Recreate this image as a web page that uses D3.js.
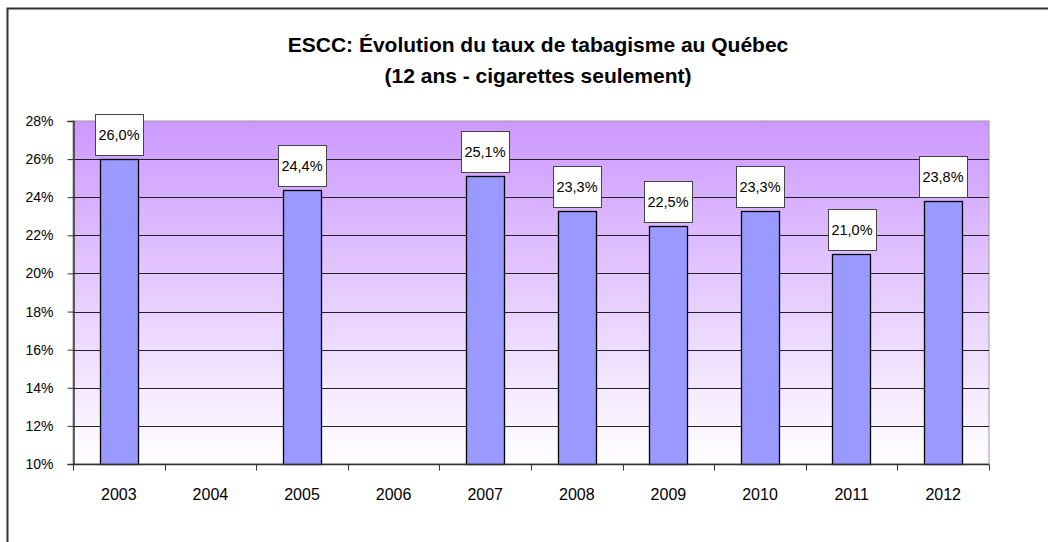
<!DOCTYPE html>
<html>
<head>
<meta charset="utf-8">
<script src="https://cdn.jsdelivr.net/npm/d3@7"></script>
<style>
  body { margin: 0; background: #fff; }
  text { font-family: "Liberation Sans", Arial, sans-serif; fill: #000; }
</style>
</head>
<body>
<div id="chart"></div>
<script>
// data
const years = ["2003", "2004", "2005", "2006", "2007", "2008", "2009", "2010", "2011", "2012"];
const rates = [26.0, null, 24.4, null, 25.1, 23.3, 22.5, 23.3, 21.0, 23.8];
const yTicks = [10, 12, 14, 16, 18, 20, 22, 24, 26, 28];
const titleLines = ["ESCC: Évolution du taux de tabagisme au Québec", "(12 ans - cigarettes seulement)"];

const width = 1048, height = 542;
const plot = {left: 73, right: 989, top: 121, bottom: 464};

const svg = d3.select("#chart")
  .append("svg")
  .attr("width", width)
  .attr("height", height);

const defs = svg.append("defs");
const grad = defs.append("linearGradient")
  .attr("id", "bg")
  .attr("x1", 0).attr("y1", 0).attr("x2", 0).attr("y2", 1);
grad.append("stop").attr("offset", "0%").attr("stop-color", "#cc99ff");
grad.append("stop").attr("offset", "100%").attr("stop-color", "#ffffff");

// outer chart border (right/bottom edges fall outside the picture)
svg.append("rect")
  .attr("x", 7.5).attr("y", 8.5)
  .attr("width", width + 10).attr("height", height + 10)
  .attr("fill", "none")
  .attr("stroke", "#333")
  .attr("stroke-width", 2);

const x = d3.scaleBand().domain(years).range([plot.left, plot.right]).paddingInner(0.58).paddingOuter(0.29);
const xBand = d3.scaleBand().domain(years).range([plot.left, plot.right]);
const y = d3.scaleLinear().domain([10, 28]).range([plot.bottom, plot.top]);

// plot background
svg.append("rect")
  .attr("x", plot.left).attr("y", plot.top)
  .attr("width", plot.right - plot.left).attr("height", plot.bottom - plot.top)
  .attr("fill", "url(#bg)")
  .attr("stroke", "#999")
  .attr("stroke-width", 1);

// gridlines
svg.append("g").attr("class", "grid")
  .selectAll("line").data(yTicks.filter(d => d > 10 && d < 28)).enter()
  .append("line")
  .attr("x1", plot.left).attr("x2", plot.right)
  .attr("y1", d => Math.round(y(d)) + 0.5).attr("y2", d => Math.round(y(d)) + 0.5)
  .attr("stroke", "#222")
  .attr("stroke-width", 1);

// bars
const data = years.map((yr, i) => ({year: yr, value: rates[i]})).filter(d => d.value != null);

svg.append("g").attr("class", "bars")
  .selectAll("rect").data(data).enter()
  .append("rect")
  .attr("x", d => Math.round(x(d.year)) + 0.5)
  .attr("y", d => Math.round(y(d.value)) + 0.5)
  .attr("width", Math.round(x.bandwidth()))
  .attr("height", d => Math.round(y(10)) - Math.round(y(d.value)))
  .attr("fill", "#9999ff")
  .attr("stroke", "#000")
  .attr("stroke-width", 1.3);

// y axis
const yAxis = d3.axisLeft(y)
  .tickValues(yTicks)
  .tickFormat(d => d + "%")
  .tickSize(6)
  .tickPadding(14);
const gy = svg.append("g")
  .attr("transform", `translate(${plot.left + 0.5},0)`)
  .call(yAxis);
gy.select(".domain").attr("stroke", "#333").attr("stroke-width", 1.5);
gy.selectAll(".tick line").attr("stroke", "#333");
gy.selectAll(".tick text").attr("font-size", 14).attr("fill", "#000");

// x axis with ticks at the category boundaries
const gx = svg.append("g")
  .attr("transform", `translate(0,${plot.bottom + 0.5})`);
gx.append("line")
  .attr("x1", plot.left).attr("x2", plot.right)
  .attr("stroke", "#333").attr("stroke-width", 1.5);
gx.selectAll("line.tk").data(years.concat(["end"])).enter()
  .append("line").attr("class", "tk")
  .attr("x1", (d, i) => Math.round(plot.left + i * xBand.step()) + 0.5)
  .attr("x2", (d, i) => Math.round(plot.left + i * xBand.step()) + 0.5)
  .attr("y1", 0).attr("y2", 6)
  .attr("stroke", "#333");
gx.selectAll("text").data(years).enter()
  .append("text")
  .attr("x", d => xBand(d) + xBand.bandwidth() / 2)
  .attr("y", 35)
  .attr("text-anchor", "middle")
  .attr("font-size", 16)
  .text(d => d);

// value labels in boxes
const labels = svg.append("g").attr("class", "labels")
  .selectAll("g").data(data).enter()
  .append("g")
  .attr("transform", d => `translate(${Math.round(x(d.year) + x.bandwidth() / 2)},${Math.round(y(d.value))})`);
labels.append("rect")
  .attr("x", -23.5).attr("y", -44.5)
  .attr("width", 48).attr("height", 41)
  .attr("fill", "#fff")
  .attr("stroke", "#444")
  .attr("stroke-width", 1);
labels.append("text")
  .attr("x", 0).attr("y", -19)
  .attr("text-anchor", "middle")
  .attr("font-size", 14.5)
  .attr("fill", "#222")
  .text(d => d3.format(".1f")(d.value).replace(".", ",") + "%");

// title
svg.append("g").attr("class", "title")
  .selectAll("text").data(titleLines).enter()
  .append("text")
  .attr("x", 538)
  .attr("y", (d, i) => 52 + i * 31)
  .attr("text-anchor", "middle")
  .attr("font-size", 21)
  .attr("font-weight", "bold")
  .text(d => d);
</script>
</body>
</html>
